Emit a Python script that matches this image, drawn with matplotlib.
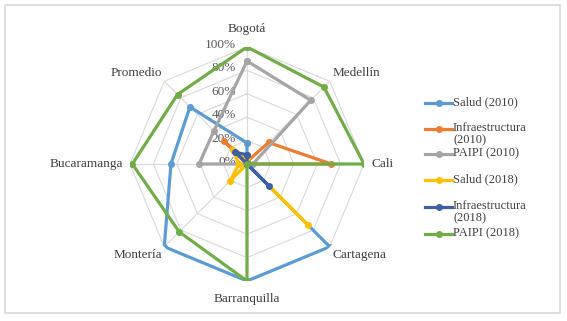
import numpy as np
import matplotlib
matplotlib.use("Agg")
import matplotlib.pyplot as plt
import matplotlib.transforms as mtransforms
from matplotlib.lines import Line2D
from matplotlib.patches import Rectangle

plt.rcParams['font.family'] = ['Liberation Serif', 'DejaVu Serif']

# categorias (sentido horario desde arriba)
ciudades = ['Bogotá', 'Medellín', 'Cali', 'Cartagena', 'Barranquilla',
            'Montería', 'Bucaramanga', 'Promedio']

salud_2010 = [0.18, 0.0, 0.0, 1.00, 1.00, 1.00, 0.65, 0.69]
infra_2010 = [0.02, 0.26, 0.72, 0.0, 0.0, 0.0, 0.0, 0.28]
paipi_2010 = [0.88, 0.77, 0.05, 0.0, 0.0, 0.0, 0.41, 0.40]
salud_2018 = [0.06, 0.0, 0.0, 0.74, 0.0, 0.20, 0.07, 0.17]
infra_2018 = [0.08, 0.0, 0.0, 0.27, 0.0, 0.0, 0.0, 0.14]
paipi_2018 = [1.00, 0.93, 1.00, 0.0, 1.00, 0.82, 0.98, 0.84]

series = [
    ('Salud (2010)', salud_2010, '#5B9BD5'),
    ('Infraestructura\n(2010)', infra_2010, '#ED7D31'),
    ('PAIPI (2010)', paipi_2010, '#A5A5A5'),
    ('Salud (2018)', salud_2018, '#FFC000'),
    ('Infraestructura\n(2018)', infra_2018, '#3D5FA8'),
    ('PAIPI (2018)', paipi_2018, '#70AD47'),
]

niveles = [0.0, 0.2, 0.4, 0.6, 0.8, 1.0]
etiquetas_niveles = ['0%', '20%', '40%', '60%', '80%', '100%']

W, H = 567, 321
fig = plt.figure(figsize=(W / 100, H / 100), dpi=100)

# marco del grafico
fig.patches.append(Rectangle((5 / W, 1 - 313 / H), 555 / W, 308 / H,
                             transform=fig.transFigure, fill=False,
                             edgecolor='#D9D9D9', lw=1.2))

cx, cy, R = 247, 164, 117
ax = fig.add_axes([(cx - R) / W, (H - cy - R) / H, 2 * R / W, 2 * R / H],
                  projection='polar')
ax.set_theta_zero_location('N')
ax.set_theta_direction(-1)
ax.set_ylim(0, 1)
ax.set_xticks([])
ax.set_yticks([])
ax.grid(False)
ax.spines['polar'].set_visible(False)
ax.patch.set_alpha(0)

n = len(ciudades)
ang = np.linspace(0, 2 * np.pi, n, endpoint=False)
ang_c = np.append(ang, ang[0])

# rejilla poligonal
for lv in niveles[1:]:
    ax.plot(ang_c, [lv] * (n + 1), color='#D9D9D9', lw=0.8, zorder=1)
for a in ang:
    ax.plot([a, a], [0, 1], color='#D9D9D9', lw=0.8, zorder=1)

# series
for nombre, vals, col in series:
    v = np.append(vals, vals[0])
    ax.plot(ang_c, v, color=col, lw=2.3, marker='o', ms=4, zorder=3,
            solid_joinstyle='miter')

# etiquetas de porcentaje
off = mtransforms.offset_copy(ax.transData, fig, x=-11, y=2, units='dots')
for lv, txt in zip(niveles, etiquetas_niveles):
    ax.text(0, lv, txt, transform=off, ha='right', va='center',
            fontsize=9.5, color='#595959', zorder=2)

# etiquetas de ciudades
for a, nom in zip(ang, ciudades):
    s, c = np.sin(a), np.cos(a)
    ha = 'center' if abs(s) < 0.1 else ('left' if s > 0 else 'right')
    va = 'center' if abs(c) < 0.1 else ('bottom' if c > 0 else 'top')
    if abs(s) < 0.1:
        r = 1.1
    elif abs(c) < 0.1:
        r = 1.06
    else:
        r = 1.03
    ax.text(a, r, nom, ha=ha, va=va, fontsize=9.5, color='#404040')

# leyenda
ys = [103, 129, 154, 180, 207, 234]
for (nombre, vals, col), y in zip(series, ys):
    yf = 1 - y / H
    fig.add_artist(Line2D([425 / W, 452 / W], [yf, yf], color=col, lw=2.3,
                          transform=fig.transFigure))
    fig.add_artist(Line2D([438.5 / W], [yf], color=col, marker='o', ms=4,
                          transform=fig.transFigure))
    fig.text(453 / W, yf + 7 / H, nombre, ha='left', va='top', fontsize=9,
             color='#404040', linespacing=1.0)

fig.savefig('out.png', dpi=100)
